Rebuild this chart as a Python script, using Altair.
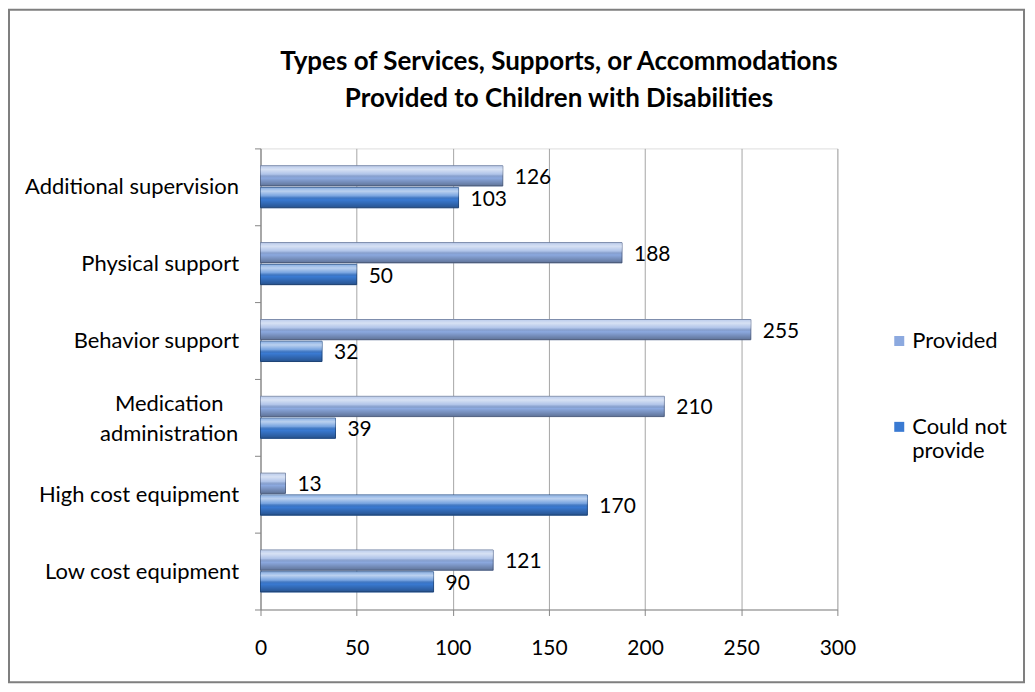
import altair as alt
import pandas as pd

categories = ["Additional supervision", "Physical support", "Behavior support",
              "Medication administration", "High cost equipment", "Low cost equipment"]
series_names = ["Provided", "Could not provide"]
provided = [126, 188, 255, 210, 13, 121]
could_not = [103, 50, 32, 39, 170, 90]
title_lines = ["Types of Services, Supports, or Accommodations",
               "Provided to Children with Disabilities"]

rows = []
for c, p, q in zip(categories, provided, could_not):
    rows.append({"category": c, "series": "Provided", "value": p})
    rows.append({"category": c, "series": "Could not provide", "value": q})
df = pd.DataFrame(rows)

FONT = "Lato"
base_colors = ["#8CA9DF", "#3A7AD2"]
edge_colors = ["#5E7198", "#234F8C"]
MED = "datum.value == 'Medication administration'"

y_enc = alt.Y("category:N", sort=categories, title=None,
              scale=alt.Scale(paddingInner=0, paddingOuter=0),
              axis=alt.Axis(tickBand="extent", labelFontSize=22, labelFont=FONT,
                            labelColor="#000000", tickSize=6, tickColor="#868686",
                            domainColor="#868686", labelLimit=300,
                            labelLineHeight=30,
                            labelAlign={"condition": {"test": MED, "value": "center"}, "value": "right"},
                            labelPadding={"condition": {"test": MED, "value": 86}, "value": 16},
                            labelOffset={"condition": {"test": MED, "value": -14}, "value": 0},
                            labelExpr=MED + " ? ['Medication', 'administration'] : datum.value"))
yoff = alt.YOffset("series:N", sort=series_names,
                   scale=alt.Scale(paddingInner=0.07, paddingOuter=0.8))
x_enc = alt.X("value:Q", title=None,
              scale=alt.Scale(domain=[0, 300]),
              axis=alt.Axis(values=[0, 50, 100, 150, 200, 250, 300], labelFontSize=21,
                            labelFont=FONT, labelColor="#000000", tickSize=6,
                            tickColor="#868686", domainColor="#868686", labelFlush=False,
                            gridColor="#A6A6A6", labelPadding=22))

base = alt.Chart(df)

bars = base.mark_bar(strokeWidth=1).encode(
    y=y_enc, yOffset=yoff, x=x_enc,
    color=alt.Color("series:N", sort=series_names,
                    scale=alt.Scale(domain=series_names, range=base_colors),
                    legend=alt.Legend(title=None, orient="none", legendX=629, legendY=182,
                                      symbolType="square", symbolSize=100,
                                      symbolStrokeWidth=0, labelOffset=2,
                                      labelFontSize=22, labelFont=FONT, labelColor="#000000",
                                      rowPadding=64, labelLimit=200,
                                      labelExpr="datum.label == 'Could not provide' ? ['Could not', 'provide'] : datum.label")),
    stroke=alt.Stroke("series:N", sort=series_names,
                      scale=alt.Scale(domain=series_names, range=edge_colors), legend=None),
)

shade = base.mark_bar(
    color=alt.Gradient(
        gradient="linear", x1=0, x2=0, y1=0, y2=1,
        stops=[alt.GradientStop(color="rgba(255,255,255,0.4)", offset=0),
               alt.GradientStop(color="rgba(255,255,255,0.65)", offset=0.18),
               alt.GradientStop(color="rgba(255,255,255,0.3)", offset=0.42),
               alt.GradientStop(color="rgba(0,0,0,0.0)", offset=0.6),
               alt.GradientStop(color="rgba(0,0,0,0.32)", offset=1)])
).encode(y=y_enc, yOffset=yoff, x=x_enc)

labels = base.mark_text(align="left", baseline="middle", dx=12, dy=2,
                        fontSize=21, font=FONT, color="#000000").encode(
    y=y_enc, yOffset=yoff, x=x_enc, text=alt.Text("value:Q"))

title = alt.Chart(alt.Data(values=[{}])).mark_text(
    text=title_lines, fontSize=26, font=FONT, fontWeight="bold", color="#000000",
    align="center", baseline="middle", lineHeight=38).encode(
    x=alt.value(299), y=alt.value(-87))

border = alt.Chart(alt.Data(values=[{}])).mark_rect(
    fill=None, stroke="#7F7F7F", strokeWidth=2).encode(
    x=alt.value(-252), x2=alt.value(765), y=alt.value(-139), y2=alt.value(535))

chart = alt.layer(bars, shade, labels, title, border).properties(
    width=578, height=462,
    autosize=alt.AutoSizeParams(type="none"),
    padding={"left": 253, "top": 140, "right": 190, "bottom": 80},
).configure_view(strokeWidth=0).configure(background="white")

chart.save("out.html", embed_options={"renderer": "svg", "actions": False})
